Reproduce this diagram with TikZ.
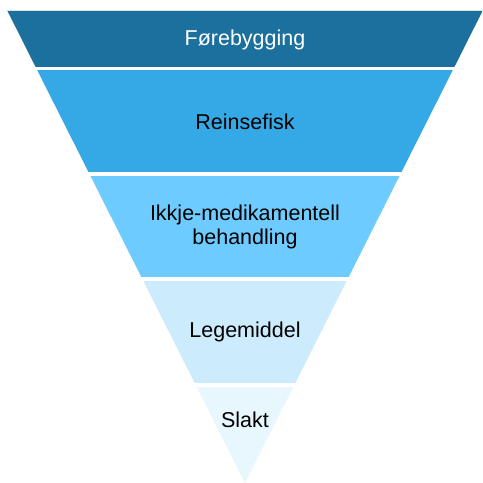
\documentclass[tikz,border=0pt]{standalone}
\usepackage{fontspec}
\setmainfont{Liberation Sans}
\usepackage{xcolor}
\usetikzlibrary{math}
\definecolor{bandA}{RGB}{27,112,158}
\definecolor{bandB}{RGB}{53,169,230}
\definecolor{bandC}{RGB}{110,203,255}
\definecolor{bandD}{RGB}{204,235,252}
\definecolor{bandE}{RGB}{232,246,253}
\tikzset{
  lbl/.style={font=\fontsize{21.5}{24}\selectfont, align=center, inner sep=0pt},
}

\begin{document}
\begin{tikzpicture}[x=1pt,y=-1pt]
\tikzmath{
\W=483;
\ytop=10.7;
\xc=245;
}
\useasboundingbox (0,0) rectangle (\W,\W);

\coordinate (TL) at (7.3,\ytop);
\coordinate (TR) at (482.7,\ytop);
\coordinate (A) at (\xc,\W);

% bands, cut to the triangle
\begin{scope}
\clip (TL) -- (TR) -- (A) -- cycle;
\fill[color=bandA] (0,\ytop) rectangle (\W,67);
\fill[color=bandB] (0,70.3) rectangle (\W,172.3);
\fill[color=bandC] (0,175.7) rectangle (\W,277.3);
\fill[color=bandD] (0,280.7) rectangle (\W,383.3);
\fill[color=bandE] (0,386.7) rectangle (\W,\W);
\end{scope}
\draw[gray!25, line width=0.8] (TL) -- (TR);

\node[lbl, text=white] (forebygging) at (\xc,40) {Førebygging};
\node[lbl] (reinsefisk) at (\xc,122) {Reinsefisk};
\node[lbl] (ikkjemed) at (\xc,227) {Ikkje-medikamentell\\behandling};
\node[lbl] (legemiddel) at (\xc,332) {Legemiddel};
\node[lbl] (slakt) at (\xc,420) {Slakt};
\end{tikzpicture}
\end{document}
